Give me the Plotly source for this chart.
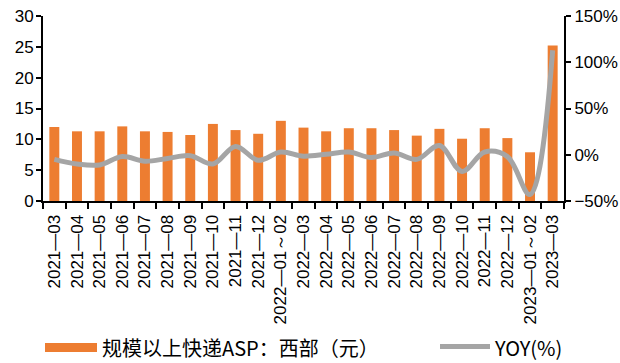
import plotly.graph_objects as go

categories = ["2021—03", "2021—04", "2021—05", "2021—06", "2021—07", "2021—08",
              "2021—09", "2021—10", "2021—11", "2021—12", "2022—01～02", "2022—03",
              "2022—04", "2022—05", "2022—06", "2022—07", "2022—08", "2022—09",
              "2022—10", "2022—11", "2022—12", "2023—01～02", "2023—03"]
asp_west = [12.0, 11.3, 11.3, 12.1, 11.3, 11.2, 10.7, 12.5, 11.5, 10.9, 13.0, 11.9,
            11.3, 11.8, 11.8, 11.5, 10.6, 11.7, 10.1, 11.8, 10.2, 7.9, 25.2]
yoy_pct = [-5, -10, -11, -2, -7, -4, -1, -10, 9, -6, 3, -1.5,
           0.5, 3, -3, 2, -5, 10, -18, 3, -2, -43, 113]
left_ticks = [0, 5, 10, 15, 20, 25, 30]
right_ticks = [-50, 0, 50, 100, 150]
right_ticktext = ["−50%", "0%", "50%", "100%", "150%"]
legend_bar = "规模以上快递ASP：西部（元）"
legend_line = "YOY(%)"

ORANGE = "#ED7D31"
GREY = "#A5A5A5"
TICKFONT = dict(family="Arial", size=17, color="#000000")
CJK = "Noto Sans CJK SC"

fig = go.Figure()
fig.add_trace(go.Bar(x=categories, y=asp_west, marker=dict(color=ORANGE, line=dict(width=0)),
                     width=0.44, name=legend_bar, yaxis="y", showlegend=False))
fig.add_trace(go.Scatter(x=categories, y=yoy_pct, mode="lines", name=legend_line,
                         line=dict(color=GREY, width=5, shape="spline", smoothing=1.0),
                         yaxis="y2", showlegend=False))

W, H = 620, 363
L, R, T, B = 43, 56, 16, 162
pw, ph = W - L - R, H - T - B


def px_x(x):
    return (x - L) / pw


def px_y(y):
    return (H - B - y) / ph


fig.update_layout(
    width=W, height=H,
    margin=dict(l=L, r=R, t=T, b=B, autoexpand=False),
    paper_bgcolor="white", plot_bgcolor="white",
    showlegend=False,
    xaxis=dict(type="category", showgrid=False, showline=True, linecolor="black", linewidth=2,
               ticks="outside", ticklen=6, tickwidth=2, tickcolor="black", tickson="boundaries",
               tickangle=-90, tickfont=TICKFONT, automargin=False, ticklabelstandoff=5,
               ticklabeloverflow="allow"),
    yaxis=dict(range=[0, 30], tickvals=left_ticks, showgrid=False, zeroline=False,
               showline=True, linecolor="black", linewidth=2, ticks="outside", ticklen=5,
               tickwidth=2, tickcolor="black", tickfont=TICKFONT, automargin=False,
               ticklabeloverflow="allow", ticklabelstandoff=-1),
    yaxis2=dict(range=[-50, 150], tickvals=right_ticks, ticktext=right_ticktext,
                overlaying="y", side="right", showgrid=False, zeroline=False, showline=True,
                linecolor="black", linewidth=2, ticks="outside", ticklen=5, tickwidth=2,
                tickcolor="black", tickfont=TICKFONT, automargin=False,
                ticklabeloverflow="allow", ticklabelstandoff=0),
)

# custom legend (bottom)
fig.add_shape(type="rect", xref="paper", yref="paper",
              x0=px_x(45), x1=px_x(97), y0=px_y(352), y1=px_y(343),
              fillcolor=ORANGE, line=dict(width=0))
fig.add_annotation(xref="paper", yref="paper", x=px_x(100), y=px_y(347.5),
                   xanchor="left", yanchor="middle", showarrow=False, text=legend_bar,
                   font=dict(family=CJK, size=20, color="#000000"))
fig.add_shape(type="line", xref="paper", yref="paper",
              x0=px_x(440), x1=px_x(490), y0=px_y(346.5), y1=px_y(346.5),
              line=dict(color=GREY, width=5))
fig.add_annotation(xref="paper", yref="paper", x=px_x(492), y=px_y(347.5),
                   xanchor="left", yanchor="middle", showarrow=False, text=legend_line,
                   font=dict(family=CJK, size=20, color="#000000"))

fig.write_html("out.html")
